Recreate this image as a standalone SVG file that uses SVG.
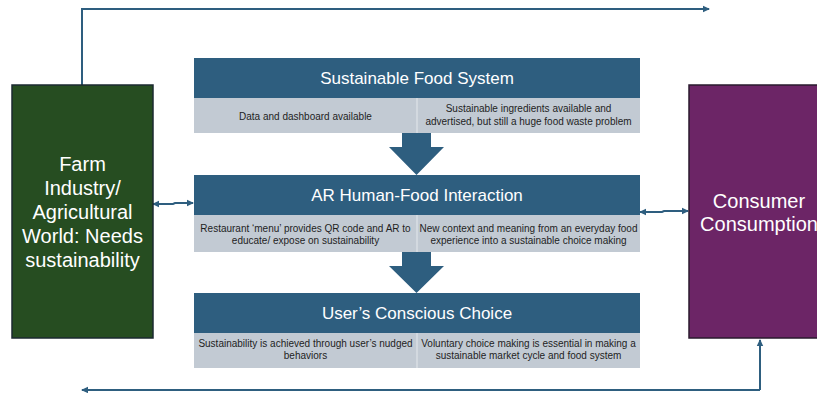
<svg xmlns="http://www.w3.org/2000/svg" width="817" height="393" viewBox="0 0 817 393">
<defs>
<style>
.hdr{fill:#2E5E7F}
.row{fill:#C2CAD3}
.div{stroke:#E4E8EC;stroke-width:1}
.title{font-family:"Liberation Sans",Arial,sans-serif;font-size:17px;fill:#FFFFFF;text-anchor:middle}
.cell{font-family:"Liberation Sans",Arial,sans-serif;font-size:10px;fill:#1E1E1E;text-anchor:middle}
.side{font-family:"Liberation Sans",Arial,sans-serif;font-size:20px;fill:#FFFFFF;text-anchor:middle}
.conn{fill:none;stroke:#2E5E7F;stroke-width:2}
.barrow{fill:#2E5E7F}
</style>
<marker id="ah" markerWidth="8" markerHeight="8" refX="6" refY="4" orient="auto-start-reverse" markerUnits="userSpaceOnUse">
<path d="M0,0.8 L7,4 L0,7.2 Z" fill="#2E5E7F"/>
</marker>
</defs>

<g id="connectors">
<polyline class="conn" points="82,85 82,9 709,9" marker-end="url(#ah)"/>
<polyline class="conn" points="760,390 82,390" marker-end="url(#ah)"/>
<polyline class="conn" points="760,390 760,340" marker-end="url(#ah)"/>
<polyline class="conn" points="153,204 173,204 175,203 193,203" marker-start="url(#ah)" marker-end="url(#ah)"/>
<polyline class="conn" points="640,212 662,212 664,211 688,211" marker-start="url(#ah)" marker-end="url(#ah)"/>
<polygon class="barrow" points="402,133 431,133 431,147 444,147 416.5,175 389,147 402,147"/>
<polygon class="barrow" points="402,252 431,252 431,266 444,266 416.5,293 389,266 402,266"/>
</g>

<g id="farm">
<rect x="12" y="85" width="141" height="253" fill="#264D21" stroke="#1B2A30" stroke-width="1.5"/>
<text class="side" x="82.5" y="171">Farm</text>
<text class="side" x="82.5" y="195">Industry/</text>
<text class="side" x="82.5" y="219">Agricultural</text>
<text class="side" x="82.5" y="243">World: Needs</text>
<text class="side" x="82.5" y="267">sustainability</text>
</g>

<g id="consumer">
<rect x="689" y="85" width="140" height="253" fill="#6C2566" stroke="#2A1A2E" stroke-width="1.5"/>
<text class="side" x="759" y="208">Consumer</text>
<text class="side" x="759" y="231">Consumption</text>
</g>

<g id="sustainable-food-system">
<rect class="hdr" x="194" y="58" width="446" height="40"/>
<rect class="row" x="194" y="98" width="446" height="35"/>
<line class="div" x1="417" y1="98" x2="417" y2="133"/>
<text class="title" x="417" y="84">Sustainable Food System</text>
<text class="cell" x="305.5" y="120">Data and dashboard available</text>
<text class="cell" x="528.5" y="112">Sustainable ingredients available and</text>
<text class="cell" x="528.5" y="125">advertised, but still a huge food waste problem</text>
</g>

<g id="ar-human-food-interaction">
<rect class="hdr" x="194" y="175" width="446" height="40"/>
<rect class="row" x="194" y="215" width="446" height="37"/>
<line class="div" x1="417" y1="215" x2="417" y2="252"/>
<text class="title" x="417" y="201">AR Human-Food Interaction</text>
<text class="cell" x="305.5" y="232">Restaurant ‘menu’ provides QR code and AR to</text>
<text class="cell" x="305.5" y="244">educate/ expose on sustainability</text>
<text class="cell" x="528.5" y="232">New context and meaning from an everyday food</text>
<text class="cell" x="528.5" y="244">experience into a sustainable choice making</text>
</g>

<g id="users-conscious-choice">
<rect class="hdr" x="194" y="293" width="446" height="40"/>
<rect class="row" x="194" y="333" width="446" height="35"/>
<line class="div" x1="417" y1="333" x2="417" y2="368"/>
<text class="title" x="417" y="319">User’s Conscious Choice</text>
<text class="cell" x="305.5" y="347">Sustainability is achieved through user’s nudged</text>
<text class="cell" x="305.5" y="359">behaviors</text>
<text class="cell" x="528.5" y="347">Voluntary choice making is essential in making a</text>
<text class="cell" x="528.5" y="359">sustainable market cycle and food system</text>
</g>
</svg>
